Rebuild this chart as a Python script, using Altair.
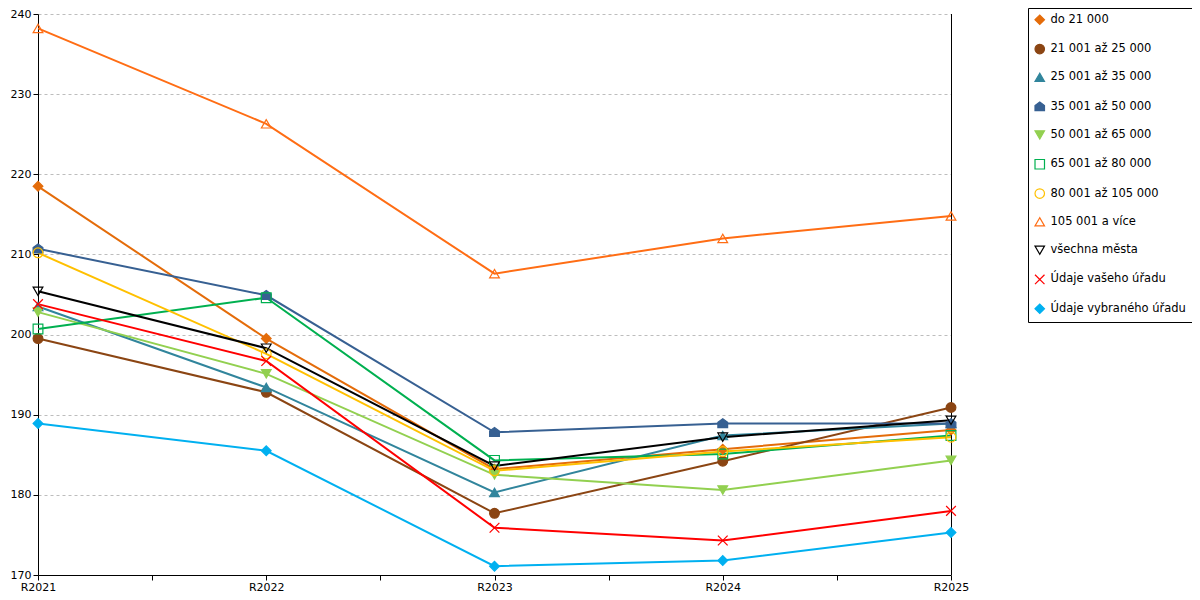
import pandas as pd
import altair as alt

# ------- data -------------------------------
years = ["R2021", "R2022", "R2023", "R2024", "R2025"]

series_names = [
    "do 21 000",
    "21 001 až 25 000",
    "25 001 až 35 000",
    "35 001 až 50 000",
    "50 001 až 65 000",
    "65 001 až 80 000",
    "80 001 až 105 000",
    "105 001 a více",
    "všechna města",
    "Údaje vašeho úřadu",
    "Údaje vybraného úřadu",
]

do_21000 = [218.5, 199.5, 183.2, 185.7, 188.1]
od_21001_25000 = [199.5, 192.8, 177.7, 184.2, 190.9]
od_25001_35000 = [203.5, 193.4, 180.3, 187.4, 188.9]
od_35001_50000 = [210.7, 204.9, 187.8, 188.9, 188.9]
od_50001_65000 = [202.8, 195.1, 182.5, 180.6, 184.3]
od_65001_80000 = [200.7, 204.6, 184.3, 185.1, 187.4]
od_80001_105000 = [210.2, 197.6, 183.0, 185.4, 187.2]
od_105001 = [238.2, 226.3, 207.6, 212.0, 214.8]
vsechna_mesta = [205.4, 198.3, 183.6, 187.2, 189.3]
vas_urad = [203.8, 196.7, 175.9, 174.3, 178.0]
vybrany_urad = [188.9, 185.5, 171.1, 171.8, 175.3]

series_values = [
    do_21000, od_21001_25000, od_25001_35000, od_35001_50000, od_50001_65000,
    od_65001_80000, od_80001_105000, od_105001, vsechna_mesta, vas_urad, vybrany_urad,
]

colors = ["#E46C0A", "#8B4513", "#31859C", "#376092", "#92D050", "#00B050",
          "#FFC000", "#FF6D14", "#000000", "#FF0000", "#00B0F0"]

house = "M0,-1L1,-0.25L1,0.85L-1,0.85L-1,-0.25Z"
x_shape = "M-1,-1L1,1M1,-1L-1,1"
shapes = ["diamond", "circle", "triangle-up", house, "triangle-down", "square",
          "circle", "triangle-up", "triangle-down", x_shape, "diamond"]
fills = ["#E46C0A", "#8B4513", "#31859C", "#376092", "#92D050", "transparent",
         "transparent", "transparent", "transparent", "transparent", "#00B0F0"]

rows = []
for name, vals in zip(series_names, series_values):
    for yr, v in zip(years, vals):
        rows.append({"series": name, "year": int(yr[1:]), "value": v})
df = pd.DataFrame(rows)

x_ticks = [2021, 2021.5, 2022, 2022.5, 2023, 2023.5, 2024, 2024.5, 2025]

legend = alt.Legend(
    title=None,
    orient="none",
    legendX=990,
    legendY=-6,
    strokeColor="black",
    fillColor="white",
    padding=6,
    labelFont="DejaVu Sans",
    labelFontSize=11.5,
    labelColor="black",
    symbolSize=90,
    symbolStrokeWidth=1.2,
    rowPadding=14.3,
    labelOffset=5,
    labelLimit=300,
)

stroke_scale = alt.Scale(domain=series_names, range=colors)

x_enc = alt.X(
    "year:Q",
    title=None,
    scale=alt.Scale(domain=[2021, 2025], nice=False, zero=False),
    axis=alt.Axis(values=x_ticks, grid=False, tickSize=5, labelPadding=1, labelFlush=False,
                  labelExpr="datum.value % 1 == 0 ? 'R' + datum.value : ''"),
)
y_enc = alt.Y(
    "value:Q",
    title=None,
    scale=alt.Scale(domain=[170, 240], nice=False, zero=False),
    axis=alt.Axis(values=list(range(170, 241, 10)), grid=True, gridDash=[3, 3],
                  gridColor="#BDBDBD", tickSize=5, labelPadding=2),
)

lines = alt.Chart(df).mark_line(strokeWidth=2).encode(
    x=x_enc,
    y=y_enc,
    stroke=alt.Stroke("series:N", title=None, scale=stroke_scale, legend=legend),
)

points = alt.Chart(df).mark_point(size=95, opacity=1, strokeWidth=1.2).encode(
    x="year:Q",
    y="value:Q",
    stroke=alt.Stroke("series:N", title=None, scale=stroke_scale, legend=legend),
    fill=alt.Fill("series:N", title=None, scale=alt.Scale(domain=series_names, range=fills), legend=legend),
    shape=alt.Shape("series:N", title=None, scale=alt.Scale(domain=series_names, range=shapes), legend=legend),
)

right_edge = alt.Chart(pd.DataFrame({"year": [2025]})).mark_rule(
    color="black", strokeWidth=1, xOffset=0.5
).encode(x="year:Q")

chart = alt.layer(lines, right_edge, points).properties(
    width=913,
    height=561,
    autosize=alt.AutoSizeParams(type="none"),
    padding={"left": 30, "top": 6, "right": 241, "bottom": 17},
).configure_view(
    stroke=None
).configure_axis(
    domainColor="black",
    tickColor="black",
    labelColor="black",
    labelFont="DejaVu Sans",
    labelFontSize=11,
)

chart.save("out.html", embed_options={"renderer": "svg", "actions": False})
